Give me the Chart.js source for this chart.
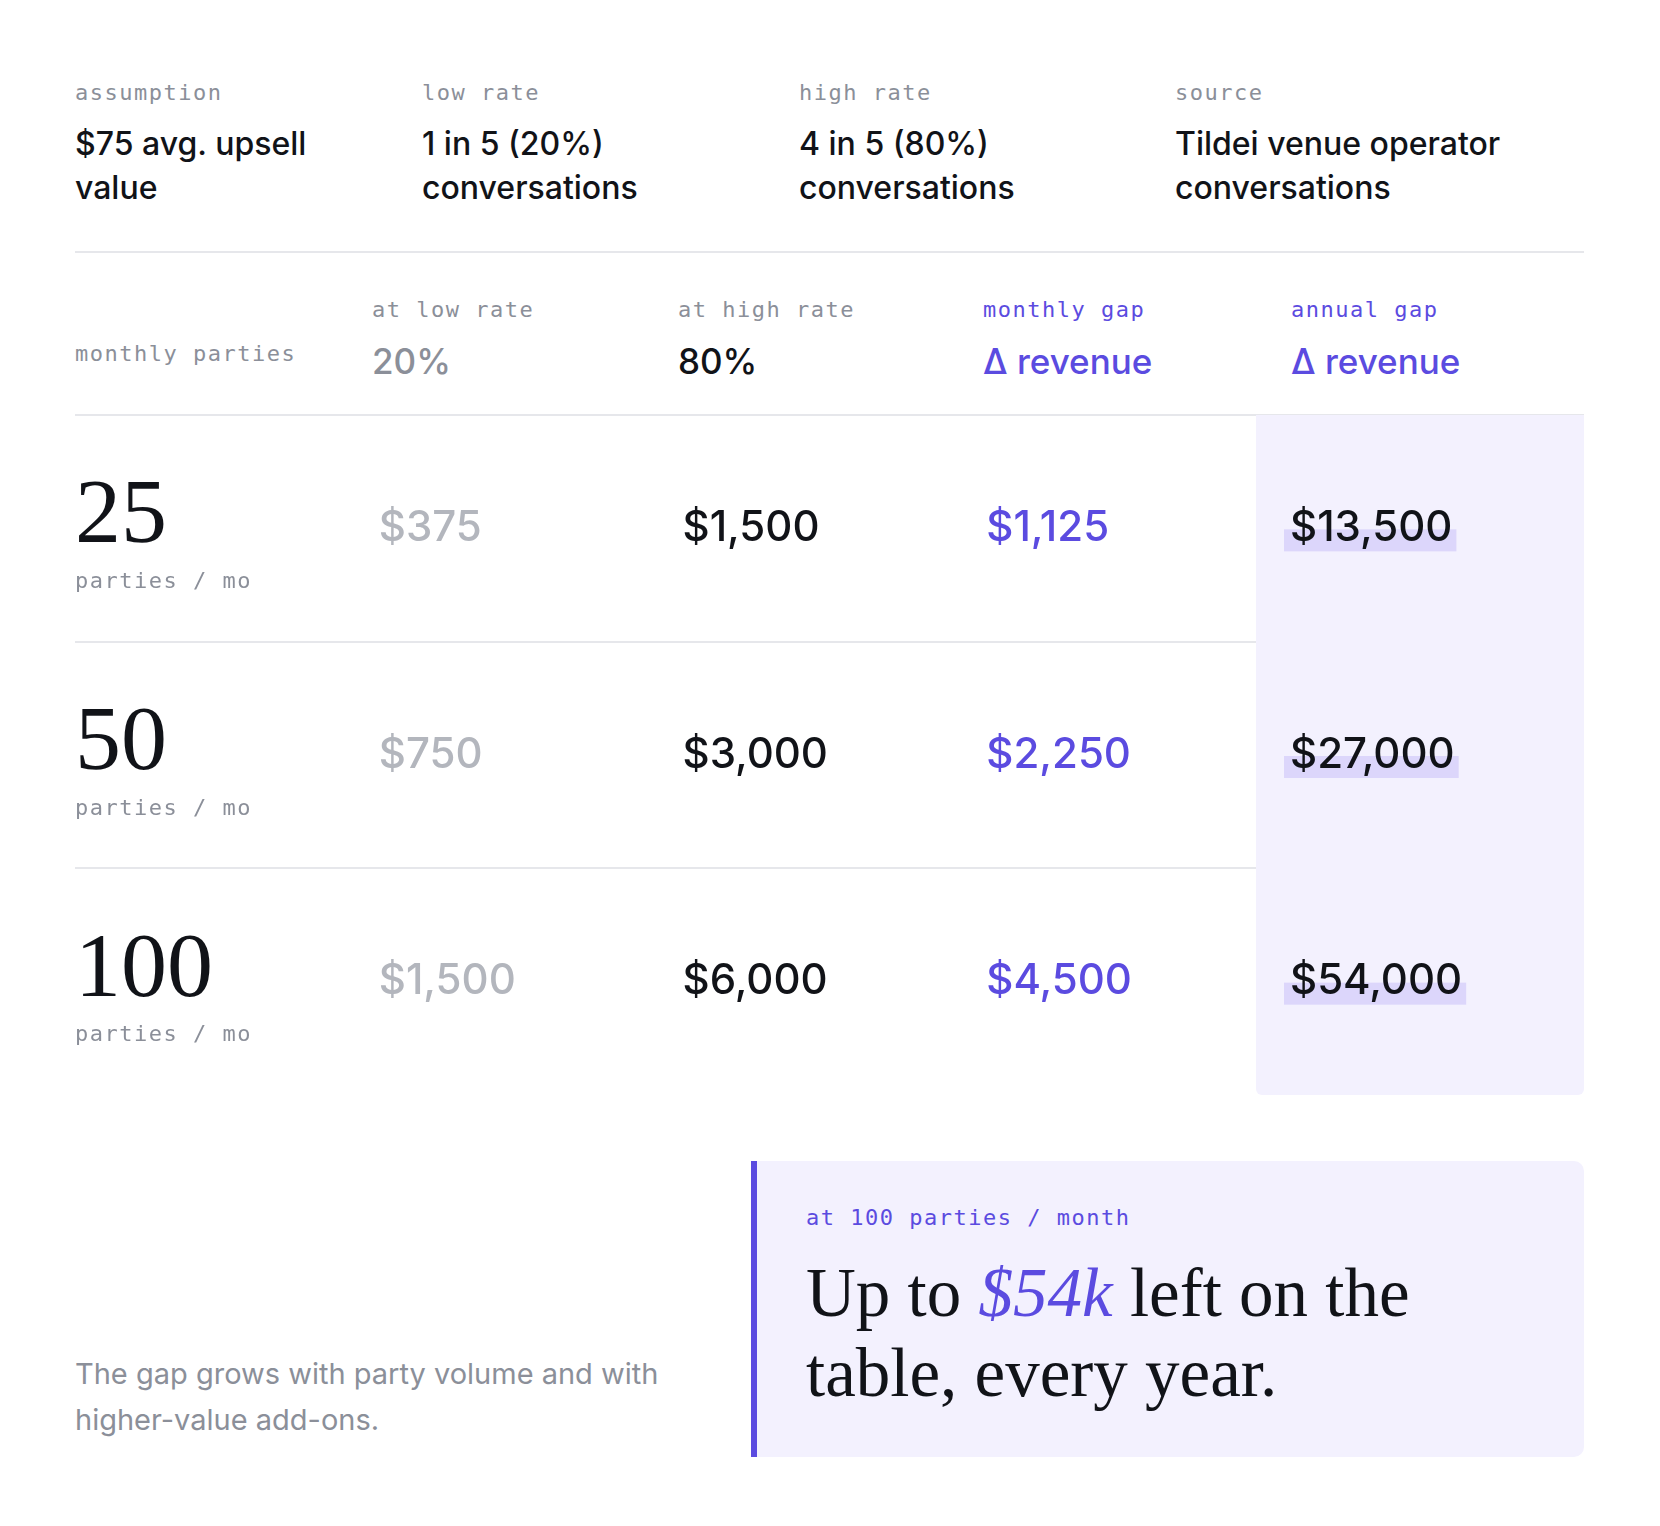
<!DOCTYPE html>
<html>
<head>
<meta charset="utf-8">
<script src="https://cdn.jsdelivr.net/npm/chart.js@4/dist/chart.umd.min.js"></script>
<style>
  body { margin: 0; width: 1660px; height: 1526px; background: #fff; position: relative; font-family: Inter, sans-serif; color: #111318; }
  .abs { position: absolute; white-space: nowrap; }
  .mono { font-family: "DejaVu Sans Mono", monospace; font-size: 22px; color: #8b8f99; letter-spacing: 1.5px; }
  .val { font-size: 32px; line-height: 44px; font-weight: 500; }
  .hval { font-size: 35px; font-weight: 500; line-height: 40px; }
  .rule { position: absolute; height: 2px; background: #e6e7eb; }
  .purple { color: #5b4be0; }
  #wrap { position: absolute; left: 0; top: 415px; width: 1660px; height: 680px; }
</style>
</head>
<body>
<!-- assumptions -->
<div class="abs mono" style="left:75px;top:80px">assumption</div>
<div class="abs mono" style="left:422px;top:80px">low rate</div>
<div class="abs mono" style="left:799px;top:80px">high rate</div>
<div class="abs mono" style="left:1175px;top:80px">source</div>
<div class="abs val" style="left:75px;top:122px">$75 avg. upsell<br>value</div>
<div class="abs val" style="left:422px;top:122px">1 in 5 (20%)<br>conversations</div>
<div class="abs val" style="left:799px;top:122px">4 in 5 (80%)<br>conversations</div>
<div class="abs val" style="left:1175px;top:122px">Tildei venue operator<br>conversations</div>
<div class="rule" style="left:75px;width:1509px;top:251px"></div>

<!-- table header -->
<div class="abs mono" style="left:75px;top:341px">monthly parties</div>
<div class="abs mono" style="left:372px;top:297px">at low rate</div>
<div class="abs mono" style="left:678px;top:297px">at high rate</div>
<div class="abs mono purple" style="left:983px;top:297px">monthly gap</div>
<div class="abs mono purple" style="left:1291px;top:297px">annual gap</div>
<div class="abs hval" style="left:372px;top:341px;color:#8b8f99">20%</div>
<div class="abs hval" style="left:678px;top:341px">80%</div>
<div class="abs hval purple" style="left:983px;top:341px">Δ revenue</div>
<div class="abs hval purple" style="left:1291px;top:341px">Δ revenue</div>
<div class="rule" style="left:75px;width:1509px;top:414px"></div>

<div id="wrap"><canvas id="table"></canvas></div>

<!-- footer -->
<div class="abs" style="left:75px;top:1351px;font-size:29px;line-height:46px;color:#8b8f99">The gap grows with party volume and with<br>higher-value add-ons.</div>
<div class="abs" style="left:751px;top:1161px;width:827px;height:296px;background:#f3f1fe;border-left:6px solid #5b4be0;border-radius:0 10px 10px 0"></div>
<div class="abs mono purple" style="left:806px;top:1205px">at 100 parties / month</div>
<div class="abs" style="left:806px;top:1253px;font-family:'Liberation Serif',serif;font-size:69px;line-height:80px;color:#111318">Up to <i class="purple">$54k</i> left on the<br>table, every year.</div>

<script>
const columns = ['parties', 'low', 'high', 'monthly', 'annual'];
const parties = [25, 50, 100];
const lowRate = [375, 750, 1500];
const highRate = [1500, 3000, 6000];
const monthlyGap = [1125, 2250, 4500];
const annualGap = [13500, 27000, 54000];

const rows = parties.map(String);
const money = v => '$' + v.toLocaleString('en-US');

const series = [
  { key: 'parties', values: parties },
  { key: 'low', values: lowRate },
  { key: 'high', values: highRate },
  { key: 'monthly', values: monthlyGap },
  { key: 'annual', values: annualGap }
];

const tableText = {
  id: 'tableText',
  beforeDatasetsDraw(chart) {
    const { ctx, chartArea, scales } = chart;
    const hlLeft = scales.x.getPixelForValue(4) - 34;
    // highlight column
    ctx.save();
    ctx.fillStyle = '#f3f1fe';
    ctx.beginPath();
    ctx.roundRect(hlLeft, 0, 1584 - hlLeft, chart.height, [0, 0, 6, 6]);
    ctx.fill();
    // row dividers
    ctx.fillStyle = '#e6e7eb';
    for (let i = 1; i < rows.length; i++) {
      const y = (scales.y.getPixelForValue(i - 1) + scales.y.getPixelForValue(i)) / 2;
      ctx.fillRect(chartArea.left, Math.round(y) - 1, hlLeft - chartArea.left, 2);
    }
    ctx.restore();
  },
  afterDatasetsDraw(chart) {
    const { ctx } = chart;
    ctx.save();
    ctx.textBaseline = 'middle';
    ctx.textAlign = 'left';
    chart.data.datasets.forEach((ds, di) => {
      chart.getDatasetMeta(di).data.forEach((pt, i) => {
        const v = series[di].values[i];
        const { x, y } = pt;
        if (ds.key === 'parties') {
          ctx.fillStyle = '#111318';
          ctx.textBaseline = 'alphabetic';
          ctx.font = '92px "Liberation Serif", serif';
          ctx.fillText(String(v), x, y + 14);
          ctx.fillStyle = '#8b8f99';
          ctx.textBaseline = 'middle';
          ctx.font = '22px "DejaVu Sans Mono", monospace';
          ctx.letterSpacing = '1.5px';
          ctx.fillText('parties / mo', x, y + 54);
          ctx.letterSpacing = '0px';
          return;
        }
        ctx.font = '500 42px Inter, sans-serif';
        const txt = money(v);
        if (ds.key === 'annual') {
          const w = ctx.measureText(txt).width;
          ctx.fillStyle = '#dcd6fb';
          ctx.fillRect(x - 6, y + 1, w + 10, 22);
        }
        ctx.fillStyle = ds.color;
        ctx.fillText(txt, x, y);
      });
    });
    ctx.restore();
  }
};

const colors = { parties: '#111318', low: '#b3b6bd', high: '#111318', monthly: '#5b4be0', annual: '#111318' };

new Chart(document.getElementById('table'), {
  type: 'scatter',
  data: {
    datasets: series.map(s => ({
      key: s.key,
      color: colors[s.key],
      data: s.values.map((v, i) => ({ x: s.key, y: rows[i] })),
      pointRadius: 0
    }))
  },
  plugins: [tableText],
  options: {
    responsive: true,
    maintainAspectRatio: false,
    animation: false,
    layout: { padding: { left: 75, right: 370, top: 0, bottom: 0 } },
    plugins: { legend: { display: false }, tooltip: { enabled: false } },
    scales: {
      x: { type: 'category', labels: columns, offset: false, display: false },
      y: { type: 'category', labels: rows, offset: true, display: false }
    }
  }
});
</script>
</body>
</html>
